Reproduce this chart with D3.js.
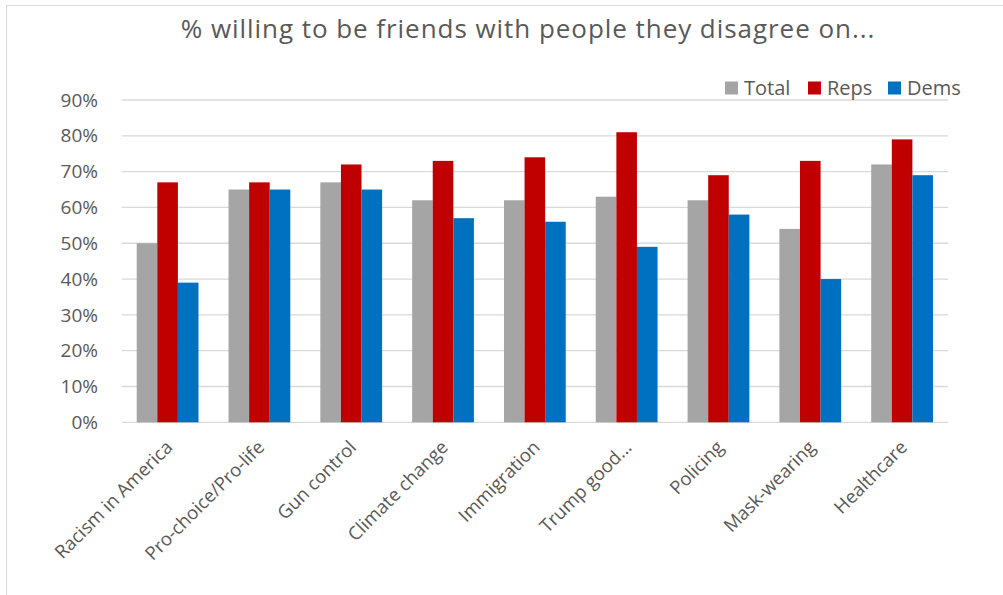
<!DOCTYPE html>
<html>
<head>
<meta charset="utf-8">
<script src="https://cdn.jsdelivr.net/npm/d3@7"></script>
<style>
  body { margin: 0; background: #fff; }
  text { font-family: "Open Sans", sans-serif; fill: #595959; }
</style>
</head>
<body>
<svg id="chart" width="1003" height="595"></svg>
<script>
// chart data
const categories = ["Racism in America", "Pro-choice/Pro-life", "Gun control", "Climate change",
  "Immigration", "Trump good...", "Policing", "Mask-wearing", "Healthcare"];
const seriesNames = ["Total", "Reps", "Dems"];
const total = [50, 65, 67, 62, 62, 63, 62, 54, 72];
const reps  = [67, 67, 72, 73, 74, 81, 69, 73, 79];
const dems  = [39, 65, 65, 57, 56, 49, 58, 40, 69];
const yTicks = [0, 10, 20, 30, 40, 50, 60, 70, 80, 90];
const colors = ["#a5a5a5", "#c00000", "#0070c0"];

const svg = d3.select("#chart");

// outer chart border
svg.append("rect")
  .attr("x", 6.5).attr("y", 5.5)
  .attr("width", 1010).attr("height", 600)
  .attr("fill", "none").attr("stroke", "#d9d9d9");

const plot = { left: 121.7, right: 948, top: 100, bottom: 422.3 };

const x = d3.scaleBand().domain(categories).range([plot.left, plot.right]);
const y = d3.scaleLinear().domain([0, 90]).range([plot.bottom, plot.top]);

// gridlines
svg.append("g").selectAll("line")
  .data(yTicks)
  .join("line")
  .attr("x1", plot.left).attr("x2", plot.right)
  .attr("y1", d => y(d)).attr("y2", d => y(d))
  .attr("stroke", "#d9d9d9").attr("stroke-width", 1.3);

// y labels
svg.append("g").selectAll("text")
  .data(yTicks)
  .join("text")
  .attr("x", 98).attr("y", d => y(d))
  .attr("dy", "0.35em")
  .attr("text-anchor", "end")
  .style("font-size", "19px")
  .text(d => d + "%");

// bars
const rows = categories.map((c, i) => ({ cat: c, vals: [total[i], reps[i], dems[i]] }));
const inner = d3.scaleBand().domain(seriesNames)
  .range([0, x.bandwidth()]).paddingOuter(0.73);

svg.append("g").selectAll("g")
  .data(rows)
  .join("g")
  .attr("transform", d => `translate(${x(d.cat)},0)`)
  .selectAll("rect")
  .data(d => d.vals.map((v, j) => ({ name: seriesNames[j], v, j })))
  .join("rect")
  .attr("x", d => inner(d.name))
  .attr("width", inner.bandwidth())
  .attr("y", d => y(d.v))
  .attr("height", d => y(0) - y(d.v))
  .attr("fill", d => colors[d.j]);

// x labels, rotated
svg.append("g").selectAll("text")
  .data(categories)
  .join("text")
  .attr("transform", d => `translate(${x(d) + x.bandwidth() / 2 - 3},${plot.bottom + 17}) rotate(-45)`)
  .attr("text-anchor", "end")
  .attr("dy", "0.7em")
  .style("font-size", "18.5px")
  .text(d => d);

// title
svg.append("text")
  .attr("x", 528).attr("y", 38)
  .attr("text-anchor", "middle")
  .style("font-size", "26px")
  .style("letter-spacing", "0.95px")
  .text("% willing to be friends with people they disagree on...");

// legend
const legendX = [725, 808, 888];
const legend = svg.append("g").selectAll("g")
  .data(seriesNames)
  .join("g")
  .attr("transform", (d, i) => `translate(${legendX[i]},0)`);
legend.append("rect")
  .attr("x", 0).attr("y", 81.5)
  .attr("width", 13).attr("height", 13)
  .attr("fill", (d, i) => colors[i]);
legend.append("text")
  .attr("x", 19).attr("y", 95)
  .style("font-size", "20px")
  .text(d => d);
</script>
</body>
</html>
